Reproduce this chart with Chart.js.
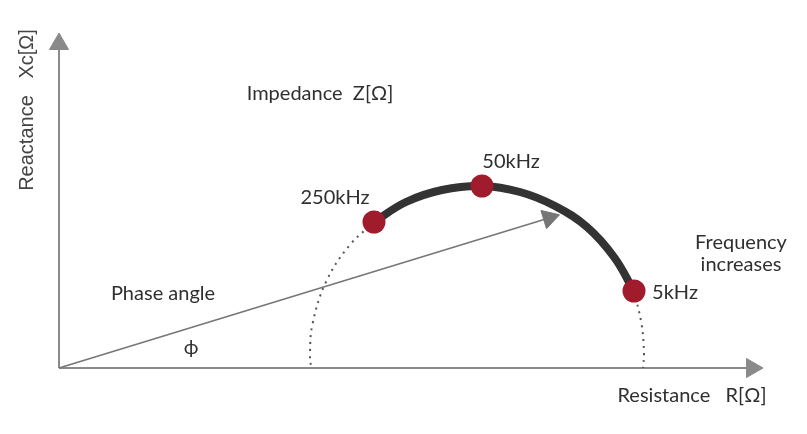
<!DOCTYPE html>
<html>
<head>
<meta charset="utf-8">
<script src="https://cdn.jsdelivr.net/npm/chart.js@4"></script>
<style>
  html, body { margin: 0; padding: 0; background: #ffffff; }
  #c { display: block; }
</style>
</head>
<body>
<canvas id="c" width="807" height="434"></canvas>
<script>
// ---- data (resistance R, reactance Xc in arbitrary units) ----
const freqLabels = ['250kHz', '50kHz', '5kHz'];
const freqR  = [31.5, 42.3, 57.5];
const freqXc = [14.6, 18.2, 7.7];

// measured impedance arc (250kHz -> 5kHz)
const arcR  = [31.5, 34.7, 38.3, 42.3, 46.1, 49.6, 52.8, 55.5, 57.5];
const arcXc = [14.6, 16.6, 17.8, 18.2, 17.6, 16.2, 14.1, 11.1, 7.7];

// dotted extrapolation to the resistance axis
const lowArcR   = [31.5, 29.0, 26.7, 25.35, 25.1, 25.2];
const lowArcXc  = [14.6, 12.2, 8.6, 4.4, 1.5, 0];
const highArcR  = [57.5, 58.25, 58.5, 58.4];
const highArcXc = [7.7, 4.4, 1.5, 0];

// impedance vector (origin -> arrow head)
const vecR  = [0, 49.0];
const vecXc = [0, 15.0];

// axes (origin -> arrow heads)
const axisRR  = [0, 69.3];
const axisRXc = [0, 0];
const axisXR  = [0, 0];
const axisXXc = [0, 32.4];

// text annotations
const labelText = ['Impedance  Z[Ω]', '250kHz', '50kHz', '5kHz', 'Frequency', 'increases', 'Phase angle', 'ϕ', 'Resistance   R[Ω]'];
const labelR    = [26.1, 27.6, 45.2, 61.6, 68.2, 68.2, 10.4, 13.2, 63.3];
const labelXc   = [27.4, 17.0, 20.6, 7.5, 12.5, 10.3, 7.4, 2.0, -2.8];
const yTitle = 'Reactance   Xc[Ω]';
const yTitlePos = [-3.2, 25.8];

const pts = (xs, ys) => xs.map((x, i) => ({ x: x, y: ys[i] }));

const textPlugin = {
  id: 'texts',
  afterDatasetsDraw(chart) {
    const ctx = chart.ctx;
    const sx = chart.scales.x, sy = chart.scales.y;
    ctx.save();
    ctx.fillStyle = '#2f2f2f';
    ctx.textAlign = 'center';
    ctx.textBaseline = 'middle';
    ctx.font = '20px Lato';
    labelText.forEach((t, i) => {
      ctx.fillText(t, sx.getPixelForValue(labelR[i]), sy.getPixelForValue(labelXc[i]));
    });
    ctx.translate(sx.getPixelForValue(yTitlePos[0]), sy.getPixelForValue(yTitlePos[1]));
    ctx.rotate(-Math.PI / 2);
    ctx.fillStyle = '#444444';
    ctx.font = '20px "Liberation Sans"';
    ctx.fillText(yTitle, 0, 0);
    ctx.restore();
  }
};

new Chart(document.getElementById('c'), {
  type: 'scatter',
  data: {
    datasets: [
      {
        data: pts(freqR, freqXc),
        showLine: false,
        pointRadius: 11.5,
        pointBackgroundColor: '#a01b2c',
        pointBorderColor: '#a01b2c',
        pointBorderWidth: 0
      },
      {
        data: pts(arcR, arcXc),
        showLine: true,
        borderColor: '#333333',
        borderWidth: 8,
        tension: 0.4,
        pointRadius: 0,
        borderCapStyle: 'round'
      },
      {
        data: pts(lowArcR, lowArcXc),
        showLine: true,
        borderColor: '#555555',
        borderWidth: 2,
        borderDash: [2, 5],
        tension: 0.4,
        pointRadius: 0
      },
      {
        data: pts(highArcR, highArcXc),
        showLine: true,
        borderColor: '#555555',
        borderWidth: 2,
        borderDash: [2, 5],
        tension: 0.4,
        pointRadius: 0
      },
      {
        data: pts(vecR, vecXc),
        showLine: true,
        borderColor: '#767676',
        borderWidth: 1.6,
        pointRadius: [0, 11],
        pointStyle: 'triangle',
        rotation: 73,
        pointBackgroundColor: '#767676',
        pointBorderColor: '#767676',
        pointBorderWidth: 1
      },
      {
        data: pts(axisRR, axisRXc),
        showLine: true,
        borderColor: '#8a8a8a',
        borderWidth: 2,
        pointRadius: [0, 11],
        pointStyle: 'triangle',
        rotation: 90,
        pointBackgroundColor: '#8a8a8a',
        pointBorderColor: '#8a8a8a',
        pointBorderWidth: 1
      },
      {
        data: pts(axisXR, axisXXc),
        showLine: true,
        borderColor: '#8a8a8a',
        borderWidth: 2,
        pointRadius: [0, 11],
        pointStyle: 'triangle',
        rotation: 0,
        pointBackgroundColor: '#8a8a8a',
        pointBorderColor: '#8a8a8a',
        pointBorderWidth: 1
      }
    ]
  },
  options: {
    responsive: false,
    animation: false,
    devicePixelRatio: 1,
    layout: { padding: 0, autoPadding: false },
    clip: false,
    plugins: { legend: { display: false }, tooltip: { enabled: false } },
    scales: {
      x: { type: 'linear', display: false, min: -5.9, max: 74.8 },
      y: { type: 'linear', display: false, min: -6.6, max: 36.8 }
    }
  },
  plugins: [textPlugin]
});
</script>
</body>
</html>
